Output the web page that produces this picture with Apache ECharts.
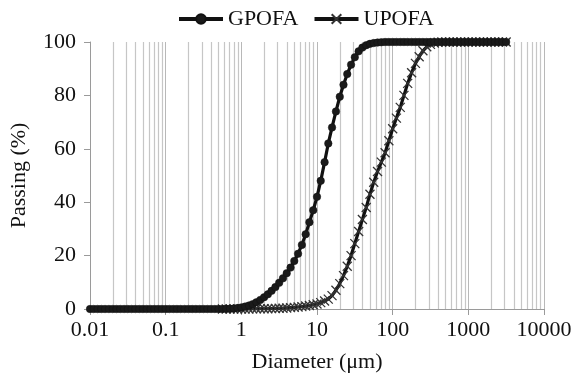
<!DOCTYPE html>
<html>
<head>
<meta charset="utf-8">
<script src="https://cdn.jsdelivr.net/npm/echarts@6/dist/echarts.min.js"></script>
<style>html,body{margin:0;padding:0;background:#fff;}#c{width:581px;height:380px;}</style>
</head>
<body>
<div id="c"></div>
<script>
const sizes = [0.01,0.0112,0.0126,0.0141,0.0158,0.0178,0.02,0.0224,0.0251,0.0282,0.0316,0.0355,0.0398,0.0447,0.0501,0.0562,0.0631,0.0708,0.0794,0.0891,
0.1,0.112,0.126,0.141,0.158,0.178,0.2,0.224,0.251,0.282,0.316,0.355,0.398,0.447,0.501,0.562,0.631,0.708,0.794,0.891,
1,1.12,1.26,1.41,1.58,1.78,2,2.24,2.51,2.82,3.16,3.55,3.98,4.47,5.01,5.62,6.31,7.08,7.94,8.91,
10,11.2,12.6,14.1,15.8,17.8,20,22.4,25.1,28.2,31.6,35.5,39.8,44.7,50.1,56.2,63.1,70.8,79.4,89.1,
100,112,126,141,158,178,200,224,251,282,316,355,398,447,501,562,631,708,794,891,
1000,1120,1260,1410,1580,1780,2000,2240,2510,2820,3160];

const gpofa = [0,0,0,0,0,0,0,0,0,0,0,0,0,0,0,0,0,0,0,0,
0,0,0,0,0,0,0,0,0,0,0,0,0,0,0,0.02,0.05,0.1,0.2,0.35,
0.6,0.9,1.3,1.8,2.5,3.4,4.4,5.5,6.8,8.2,9.8,11.5,13.4,15.5,18,20.7,24,28,32.5,37,
42,48,55,62,68,74,79.5,84,88,91.5,94.3,96.5,97.9,98.8,99.3,99.6,99.8,99.9,100,100,
100,100,100,100,100,100,100,100,100,100,100,100,100,100,100,100,100,100,100,100,
100,100,100,100,100,100,100,100,100,100,100];

const upofa = [null,null,null,null,null,null,null,null,null,null,null,null,null,null,null,null,null,null,null,null,
null,null,null,null,null,null,null,null,null,null,null,null,null,null,null,0,0,0,0,0,
0,0.02,0.03,0.05,0.07,0.09,0.1,0.12,0.15,0.2,0.25,0.3,0.4,0.5,0.6,0.75,0.9,1.1,1.3,1.6,
1.9,2.4,3.0,3.7,5.0,7.0,9.5,12.5,16,20,24.5,29,33.5,38,43,47.5,51.5,55,58.5,63,
67.5,71.5,75.5,80,84.5,88.5,92,94.5,96.7,98.2,99.1,99.6,99.9,100,100,100,100,100,100,100,
100,100,100,100,100,100,100,100,100,100,100];

const seriesNames = ['GPOFA', 'UPOFA'];
const xTickLabels = ['0.01','0.1','1','10','100','1000','10000'];
const yTicks = [0,20,40,60,80,100];

const FONT = 'Liberation Serif';
const decades = [0.01,0.1,1,10,100,1000];
const gridVals = [];
decades.forEach(d => { for (let m = 2; m <= 9; m++) gridVals.push(+(d*m).toPrecision(3)); });

const pair = arr => sizes.map((s,i) => [s, arr[i]]);
const crossPath = 'path://M0,0L10,10M10,0L0,10';

const chart = echarts.init(document.getElementById('c'), null, {renderer:'canvas'});
chart.setOption({
  animation: false,
  backgroundColor: '#fff',
  textStyle: {fontFamily: FONT},
  legend: {
    top: 3, left: 172,
    itemWidth: 44, itemHeight: 12, itemGap: 14,
    lineStyle: {width: 4},
    textStyle: {fontFamily: FONT, fontSize: 22, color: '#111'},
    data: [
      {name: seriesNames[0]},
      {name: seriesNames[1]}
    ]
  },
  grid: {left: 90, right: 37, top: 42, bottom: 71, containLabel: false},
  xAxis: {
    type: 'log', logBase: 10, min: 0.01, max: 10000, splitNumber: 6,
    name: 'Diameter (μm)', nameLocation: 'middle', nameGap: 42,
    nameTextStyle: {fontFamily: FONT, fontSize: 22, color: '#111'},
    axisLine: {lineStyle: {color: '#9a9a9a', width: 1}},
    axisTick: {show: true, length: 6, lineStyle: {color: '#9a9a9a'}},
    axisLabel: {fontFamily: FONT, fontSize: 22, color: '#111', margin: 10,
      formatter: v => { const s = xTickLabels.find(t => Math.abs(+t - v)/v < 1e-6); return s || ''; }},
    splitLine: {show: true, lineStyle: {color: '#b8b8b8', width: 1}}
  },
  yAxis: {
    type: 'value', min: 0, max: 100, interval: 20,
    name: 'Passing (%)', nameLocation: 'middle', nameGap: 60, nameRotate: 90,
    nameTextStyle: {fontFamily: FONT, fontSize: 22, color: '#111'},
    axisLine: {show: true, lineStyle: {color: '#9a9a9a', width: 1}},
    axisTick: {show: true, length: 6, lineStyle: {color: '#9a9a9a'}},
    axisLabel: {fontFamily: FONT, fontSize: 22, color: '#111', margin: 14},
    splitLine: {show: false}
  },
  series: [
    {
      name: seriesNames[1], type: 'line', data: pair(upofa), z: 2,
      symbol: crossPath, symbolSize: 9, showSymbol: true,
      lineStyle: {color: '#111', width: 3.2},
      itemStyle: {color: '#333', borderColor: '#333', borderWidth: 1.3},
      markLine: {
        silent: true, symbol: 'none', label: {show: false}, z: 1,
        lineStyle: {color: '#c6c6c6', width: 1.2, type: 'solid'},
        data: gridVals.map(v => ({xAxis: v}))
      }
    },
    {
      name: seriesNames[0], type: 'line', data: pair(gpofa), z: 3,
      symbol: 'circle', symbolSize: 7.5, showSymbol: true,
      lineStyle: {color: '#111', width: 3.2},
      itemStyle: {color: '#1a1a1a', borderColor: '#111', borderWidth: 0.5}
    }
  ]
});
</script>
</body>
</html>
